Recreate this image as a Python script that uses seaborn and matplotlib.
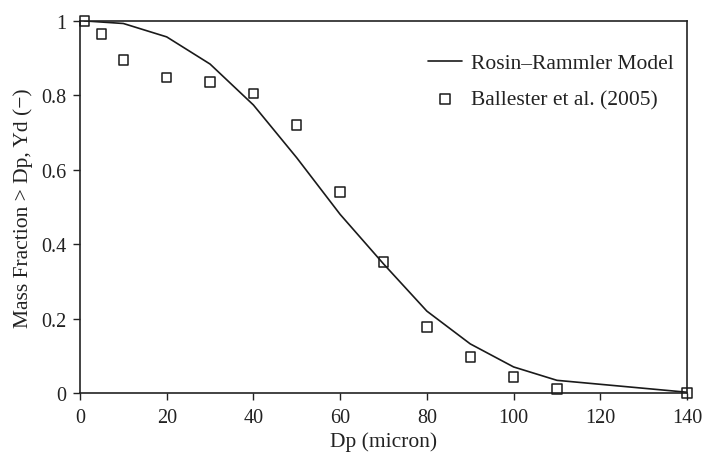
import matplotlib
matplotlib.use("Agg")
import matplotlib.pyplot as plt
import seaborn as sns
import pandas as pd

model_dp = [1, 10, 20, 30, 40, 50, 60, 70, 80, 90, 100, 110, 140]
model_yd = [1.0, 0.993, 0.957, 0.884, 0.774, 0.632, 0.480, 0.347, 0.220, 0.132, 0.070, 0.034, 0.002]

exp_dp = [1, 5, 10, 20, 30, 40, 50, 60, 70, 80, 90, 100, 110, 140]
exp_yd = [1.0, 0.965, 0.895, 0.847, 0.836, 0.804, 0.72, 0.54, 0.352, 0.177, 0.097, 0.043, 0.011, 0.0]

sns.set_theme(style="ticks")
plt.rcParams['font.family'] = ['Liberation Serif', 'DejaVu Serif']

fig = plt.figure(figsize=(7.09, 4.56), dpi=100)
ax = fig.add_axes([0.1128, 0.136, 0.8562, 0.816])

sns.lineplot(x=model_dp, y=model_yd, ax=ax, color="#1a1a1a", linewidth=1.2,
             label="Rosin\u2013Rammler Model")
sns.scatterplot(x=exp_dp, y=exp_yd, ax=ax, marker="s", s=45, facecolor="none",
                edgecolor="#1a1a1a", linewidth=1.1, label="Ballester et al. (2005)",
                clip_on=False, zorder=5)

ax.set_xlim(0, 140)
ax.set_ylim(0, 1)
ax.set_xticks([0, 20, 40, 60, 80, 100, 120, 140])
ax.set_yticks([0, 0.2, 0.4, 0.6, 0.8, 1.0])
ax.set_yticklabels(["0", "0.2", "0.4", "0.6", "0.8", "1"])
ax.set_xlabel("Dp (micron)", fontsize=15.5, color="#222222", labelpad=3)
ax.set_ylabel("Mass Fraction > Dp, Yd (\u2212)", fontsize=15.5, color="#222222", labelpad=6)
ax.tick_params(labelsize=14.5, colors="#222222", direction="out", length=5, width=1,
               top=False, right=False, pad=5)
ax.tick_params(axis="x", pad=6)
for s in ax.spines.values():
    s.set_visible(True)
    s.set_color("#222222")
    s.set_linewidth(1.2)

leg = ax.legend(loc="upper right", bbox_to_anchor=(1.01, 0.965), frameon=False,
                fontsize=15.5, handlelength=1.6, handletextpad=0.4, labelspacing=0.75)
for t in leg.get_texts():
    t.set_color("#222222")

fig.savefig("out.png", dpi=100)
